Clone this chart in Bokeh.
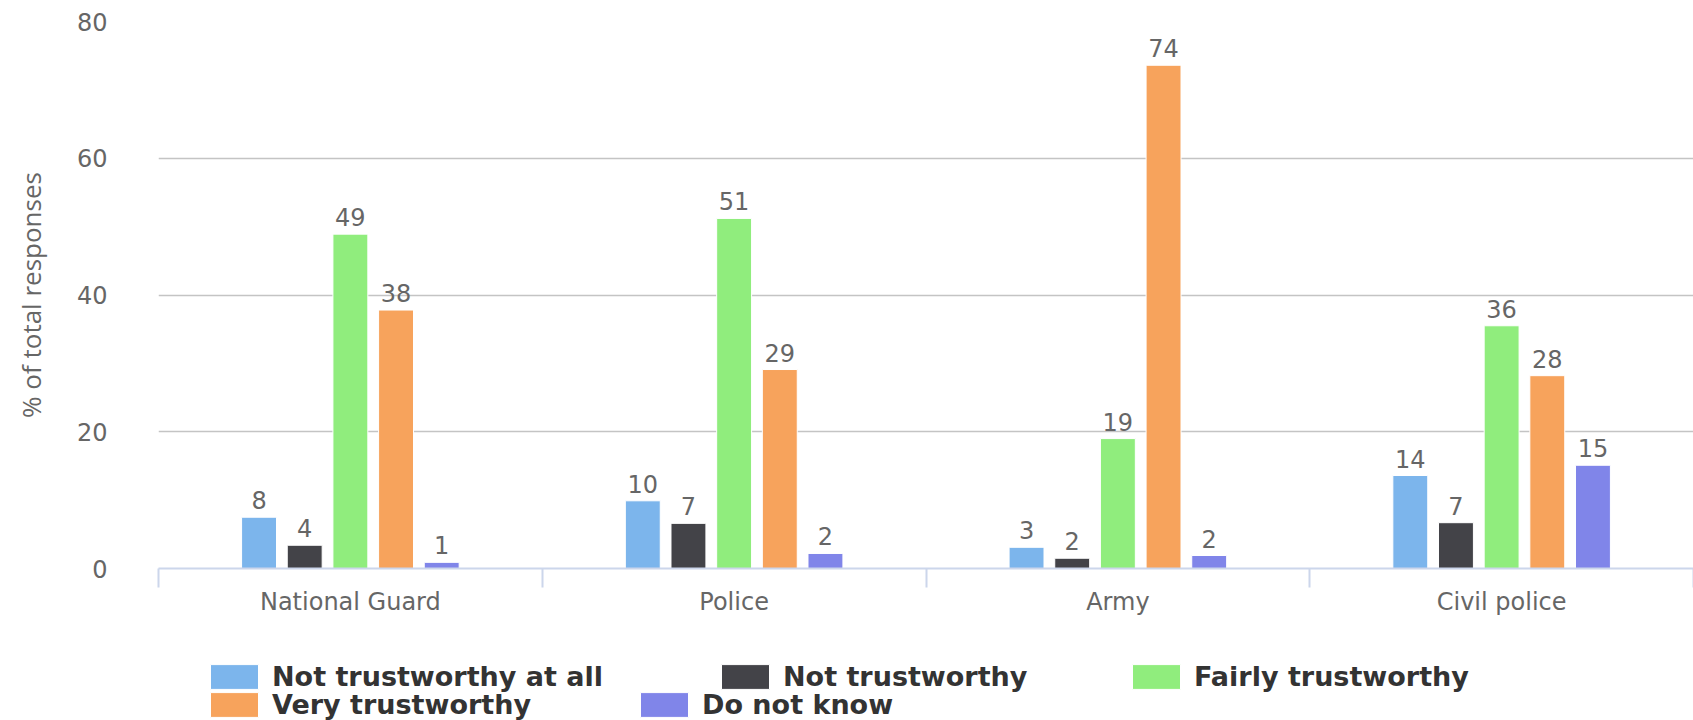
from bokeh.plotting import figure
from bokeh.layouts import column
from bokeh.models import (ColumnDataSource, Range1d, FixedTicker, LabelSet, Legend, LegendItem)
from bokeh.core.properties import value
from bokeh.transform import dodge
from bokeh.embed import file_html
from bokeh.resources import INLINE

# ---------------- data ----------------
categories = ["National Guard", "Police", "Army", "Civil police"]

series_names = ["Not trustworthy at all", "Not trustworthy", "Fairly trustworthy",
                "Very trustworthy", "Do not know"]

not_at_all = [7.5, 9.9, 3.1, 13.6]
not_trustworthy = [3.4, 6.6, 1.5, 6.7]
fairly = [48.9, 51.2, 19.0, 35.5]
very = [37.8, 29.1, 73.6, 28.2]
dont_know = [0.9, 2.2, 1.9, 15.1]

not_at_all_labels = ["8", "10", "3", "14"]
not_trustworthy_labels = ["4", "7", "2", "7"]
fairly_labels = ["49", "51", "19", "36"]
very_labels = ["38", "29", "74", "28"]
dont_know_labels = ["1", "2", "2", "15"]

y_ticks = [0, 20, 40, 60, 80]
y_title = "% of total responses"

# ---------------- styling ----------------
colors = ["#7cb5ec", "#434348", "#90ed7d", "#f7a35c", "#8085e9"]
offsets = [-0.238, -0.119, 0.0, 0.119, 0.238]
bar_width = 0.091
label_font = "DejaVu Sans"
text_gray = "#666666"

n = len(categories)
cat_pos = [i + 0.5 for i in range(n)]          # centre of each category slot
edges = [i for i in range(n + 1)]              # slot boundaries

MAIN_H = 625
p = figure(width=1693, height=MAIN_H, x_range=Range1d(0, n),
           y_range=Range1d(0, 80), output_backend="svg", toolbar_location=None,
           min_border_left=158, min_border_right=0,
           min_border_top=21, min_border_bottom=MAIN_H - 568)
p.outline_line_color = None
p.background_fill_color = "white"
p.border_fill_color = "white"

# y axis
yax = p.yaxis[0]
yax.ticker = FixedTicker(ticks=y_ticks)
yax.axis_line_color = None
yax.major_tick_line_color = None
yax.minor_tick_line_color = None
yax.major_label_text_font = label_font
yax.major_label_text_font_size = "24px"
yax.major_label_text_color = text_gray
yax.major_label_standoff = 45
yax.axis_label = y_title
yax.axis_label_text_font = "Open Sans"
yax.axis_label_text_font_style = "normal"
yax.axis_label_text_font_size = "26px"
yax.axis_label_text_color = text_gray
yax.axis_label_standoff = 25

p.ygrid.grid_line_color = "#c4c4c4"
p.ygrid.grid_line_width = 1.5
p.xgrid.grid_line_color = None

# x axis: labels at category centres, tick marks at category boundaries
xax = p.xaxis[0]
xax.ticker = FixedTicker(ticks=cat_pos, minor_ticks=edges)
xax.major_label_overrides = {pos: name for pos, name in zip(cat_pos, categories)}
xax.axis_line_color = "#ccd6eb"
xax.axis_line_width = 2
xax.major_tick_out = 0
xax.major_tick_in = 0
xax.major_tick_line_color = None
xax.minor_tick_out = 19
xax.minor_tick_in = 0
xax.minor_tick_line_color = "#ccd6eb"
xax.minor_tick_line_width = 2
xax.major_label_text_font = label_font
xax.major_label_text_font_size = "24px"
xax.major_label_text_color = text_gray
xax.major_label_standoff = 0

all_values = [not_at_all, not_trustworthy, fairly, very, dont_know]
all_labels = [not_at_all_labels, not_trustworthy_labels, fairly_labels, very_labels, dont_know_labels]

for vals, labs, col, off in zip(all_values, all_labels, colors, offsets):
    src = ColumnDataSource(dict(pos=cat_pos, cat=categories, value=vals, label=labs))
    p.vbar(x=dodge("pos", off), top="value", width=bar_width, source=src,
           fill_color=col, line_color="white", line_width=1)
    ls = LabelSet(x=dodge("pos", off), y="value", text="label", source=src,
                  y_offset=8, text_align="center", text_baseline="alphabetic",
                  text_font=value(label_font), text_font_size="24px", text_color=text_gray)
    p.add_layout(ls)

# ---------------- legend strip (Highcharts-like flow layout, two rows) ----------------
LEG_H = 720 - MAIN_H
pl = figure(width=1693, height=LEG_H, x_range=Range1d(0, 1), y_range=Range1d(0, 1),
            output_backend="svg", toolbar_location=None,
            x_axis_location=None, y_axis_location=None,
            min_border_left=0, min_border_right=0, min_border_top=0, min_border_bottom=0)
pl.outline_line_color = None
pl.background_fill_color = "white"
pl.border_fill_color = "white"
pl.xgrid.grid_line_color = None
pl.ygrid.grid_line_color = None

# legend keys: one proxy bar per series, kept outside the visible strip range
keys = []
for col in colors:
    keys.append(pl.vbar(x=[3], top=[0.5], width=0.1, fill_color=col,
                        line_color="white", line_width=1))

# positions of each legend entry (px from the strip frame's bottom-left)
legend_locs = [(46, 28), (557, 28), (968, 28), (46, 0), (476, 0)]
for name, r, loc in zip(series_names, keys, legend_locs):
    lg = Legend(items=[LegendItem(label=name, renderers=[r])], location=loc,
                orientation="horizontal", padding=0, margin=0, spacing=0,
                border_line_color=None, background_fill_alpha=0,
                glyph_width=60, glyph_height=31, label_standoff=8,
                label_text_font=label_font, label_text_font_style="bold",
                label_text_font_size="27px", label_text_color="#333333")
    pl.add_layout(lg)

layout = column(p, pl, spacing=0)
open("out.html", "w").write(file_html(layout, INLINE))
